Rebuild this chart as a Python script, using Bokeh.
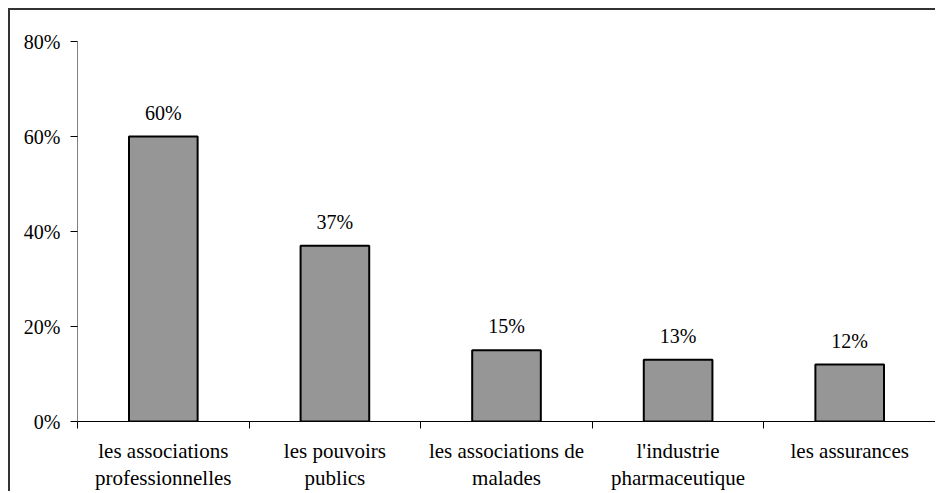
from bokeh.plotting import figure
from bokeh.models import ColumnDataSource, FixedTicker, LinearAxis, Range1d
from bokeh.core.properties import value
from bokeh.embed import file_html
from bokeh.resources import INLINE

categories = ["les associations\nprofessionnelles", "les pouvoirs\npublics",
              "les associations de\nmalades", "l'industrie\npharmaceutique",
              "les assurances"]
values = [60, 37, 15, 13, 12]
y_ticks = [0, 20, 40, 60, 80]
y_tick_labels = ["0%", "20%", "40%", "60%", "80%"]

FONT = "'Liberation Serif', 'Times New Roman', serif"
FS = "20px"
FS_CAT = "21px"

n = len(categories)
centers = [i + 0.5 for i in range(n)]
bounds = list(range(n + 1))
src = ColumnDataSource(dict(x=centers, top=values,
                            lab=[f"{v}%" for v in values]))

p = figure(width=927, height=483, output_backend="svg", toolbar_location=None,
           x_range=Range1d(0, n), y_range=Range1d(0, 80),
           min_border_left=67, min_border_top=31, min_border_right=2,
           min_border_bottom=72, x_axis_location=None)
p.styles = {"margin-left": "8px", "margin-top": "8px",
            "border-left": "2px solid #333333", "border-top": "2px solid #333333"}
p.outline_line_color = None
p.xgrid.visible = False
p.ygrid.visible = False

p.vbar(x="x", top="top", width=0.4, source=src, fill_color="#969696",
       line_color="black", line_width=2)
p.text(x="x", y="top", text="lab", source=src, text_align="center",
       text_baseline="middle", y_offset=-24, text_font=value(FONT),
       text_font_size=FS, text_color="black")

# y axis
ya = p.yaxis[0]
ya.ticker = FixedTicker(ticks=y_ticks)
ya.major_label_overrides = {t: l for t, l in zip(y_ticks, y_tick_labels)}
ya.axis_line_color = "#808080"
ya.axis_line_width = 1
ya.major_tick_line_color = "black"
ya.major_tick_in = 0
ya.major_tick_out = 7
ya.minor_tick_line_color = None
ya.major_label_standoff = 10
ya.major_label_text_font = FONT
ya.major_label_text_font_size = FS
ya.major_label_text_color = "black"

# x axis: labels at category centres, ticks at category boundaries
xa = LinearAxis(ticker=FixedTicker(ticks=centers, minor_ticks=bounds))
xa.major_label_overrides = {c: lab for c, lab in zip(centers, categories)}
xa.axis_line_color = "black"
xa.major_tick_line_color = None
xa.major_tick_in = 0
xa.major_tick_out = 0
xa.minor_tick_line_color = "black"
xa.minor_tick_in = 0
xa.minor_tick_out = 7
xa.major_label_standoff = 10
xa.major_label_text_font = FONT
xa.major_label_text_font_size = FS_CAT
xa.major_label_text_color = "black"
xa.major_label_text_line_height = 1.15
p.add_layout(xa, "below")

open("out.html", "w").write(file_html(p, INLINE))
